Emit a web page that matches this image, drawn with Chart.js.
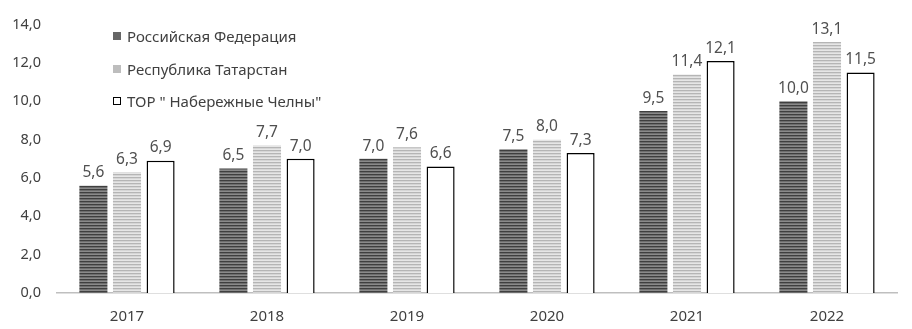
<!DOCTYPE html>
<html lang="ru">
  <head>
    <meta charset="UTF-8" />
    <title>Chart</title>
    <script src="https://cdn.jsdelivr.net/npm/chart.js"></script>
    <style>
      html, body { margin: 0; padding: 0; background: #fff; }
      #wrap { position: relative; width: 912px; height: 329px; }
      #legend {
        position: absolute; left: 113px; top: 26px;
        font-family: "Noto Sans", "Open Sans", sans-serif; font-size: 15px; color: #404040;
      }
      #legend div { height: 32.5px; display: flex; align-items: flex-start; }
      #legend span.box {
        display: inline-block; width: 8px; height: 8px; margin: 6px 6px 0 0; box-sizing: border-box;
      }
    </style>
  </head>
  <body>
    <div id="wrap">
      <canvas id="chart" width="912" height="329"></canvas>
      <div id="legend">
        <div><span class="box" style="background:#666"></span>Российская Федерация</div>
        <div><span class="box" style="background:#bdbdbd"></span>Республика Татарстан</div>
        <div><span class="box" style="background:#fff;border:1px solid #000"></span>ТОР " Набережные Челны"</div>
      </div>
    </div>

    <script>
      const years = ["2017", "2018", "2019", "2020", "2021", "2022"];
      const russia = [5.6, 6.5, 7.0, 7.5, 9.5, 10.0];
      const tatarstan = [6.3, 7.7, 7.6, 8.0, 11.4, 13.1];
      const chelny = [6.9, 7.0, 6.6, 7.3, 12.1, 11.5];
      const seriesNames = ["Российская Федерация", "Республика Татарстан", 'ТОР " Набережные Челны"'];
      const yTicks = [0, 2, 4, 6, 8, 10, 12, 14];

      const fmt = (v) => v.toFixed(1).replace(".", ",");
      const fontFamily = '"Noto Sans", "Open Sans", sans-serif';

      // полосатая заливка столбцов
      function stripes(colors) {
        const c = document.createElement("canvas");
        c.width = 4;
        c.height = colors.length;
        const g = c.getContext("2d");
        colors.forEach((col, i) => {
          g.fillStyle = col;
          g.fillRect(0, i, 4, 1);
        });
        return g.createPattern(c, "repeat");
      }

      const valueLabels = {
        id: "valueLabels",
        afterDatasetsDraw(chart) {
          const ctx = chart.ctx;
          ctx.save();
          ctx.font = "15.5px " + fontFamily;
          ctx.fillStyle = "#505050";
          ctx.textAlign = "center";
          ctx.textBaseline = "bottom";
          chart.data.datasets.forEach((ds, i) => {
            chart.getDatasetMeta(i).data.forEach((bar, j) => {
              ctx.fillText(fmt(ds.data[j]), bar.x, bar.y - 5);
            });
          });
          ctx.restore();
        },
      };

      const ctx = document.getElementById("chart").getContext("2d");
      new Chart(ctx, {
        type: "bar",
        data: {
          labels: years,
          datasets: [
            {
              label: seriesNames[0],
              data: russia,
              backgroundColor: stripes(["#3f3f3f", "#6e6e6e", "#8a8a8a"]),
              borderWidth: 0,
            },
            {
              label: seriesNames[1],
              data: tatarstan,
              backgroundColor: stripes(["#b5b5b5", "#d6d6d6", "#e6e6e6"]),
              borderWidth: 0,
            },
            {
              label: seriesNames[2],
              data: chelny,
              backgroundColor: "#ffffff",
              borderColor: "#000000",
              borderWidth: 1.5,
              borderSkipped: "bottom",
            },
          ],
        },
        options: {
          responsive: false,
          animation: false,
          layout: { padding: { top: 8, right: 15, left: 0, bottom: 0 } },
          datasets: { bar: { categoryPercentage: 0.72, barPercentage: 0.835 } },
          plugins: { legend: { display: false }, tooltip: { enabled: false } },
          scales: {
            x: {
              afterFit: (scale) => {
                scale.height = 36;
              },
              grid: { display: false, drawTicks: false },
              border: { color: "#bfbfbf", width: 1.5 },
              ticks: {
                padding: 15,
                color: "#404040",
                font: { family: fontFamily, size: 15 },
              },
            },
            y: {
              min: 0,
              max: 14,
              afterBuildTicks: (axis) => {
                axis.ticks = yTicks.map((v) => ({ value: v }));
              },
              afterFit: (scale) => {
                scale.width = 57;
              },
              grid: { display: false, drawTicks: false },
              border: { display: false },
              ticks: {
                padding: 16,
                color: "#404040",
                font: { family: fontFamily, size: 14.5 },
                callback: (v) => fmt(v),
              },
            },
          },
        },
        plugins: [valueLabels],
      });
    </script>
  </body>
</html>
